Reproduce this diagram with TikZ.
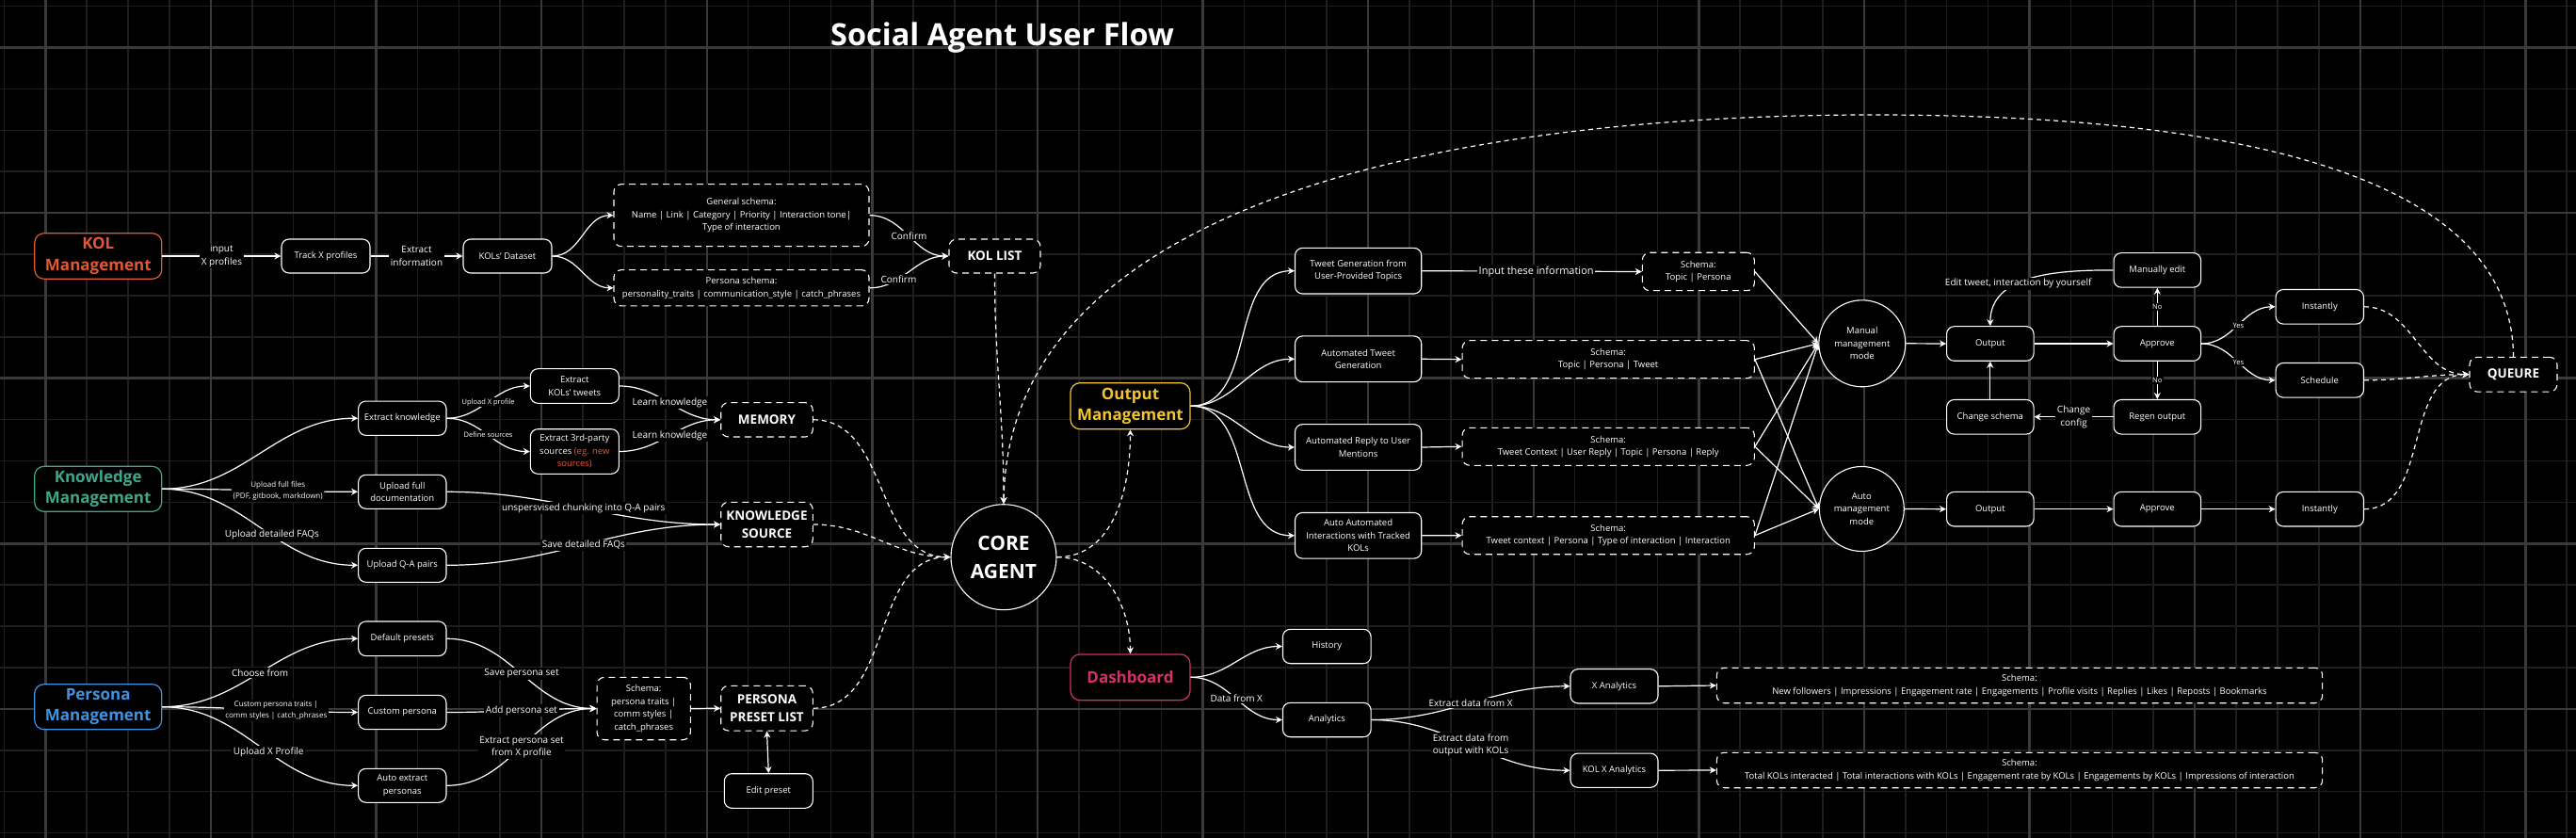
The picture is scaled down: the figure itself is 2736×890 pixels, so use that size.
\documentclass[tikz,border=0pt]{standalone}
\usepackage{fontspec}
\setmainfont{Open Sans}
\usetikzlibrary{arrows.meta}
\definecolor{kolc}{RGB}{229,87,52}
\definecolor{knc}{RGB}{62,168,138}
\definecolor{perc}{RGB}{66,146,226}
\definecolor{outc}{RGB}{243,196,48}
\definecolor{dashc}{RGB}{214,48,104}
\definecolor{gmin}{RGB}{30,30,30}
\definecolor{gmaj}{RGB}{58,58,58}
\newcommand\fsbody{\fontsize{9.5}{13.5}\selectfont}
\newcommand\fslbl{\fontsize{10}{13.5}\selectfont}
\newcommand\fsbig{\fontsize{11}{14}\selectfont}
\newcommand\fssmall{\fontsize{8}{11.5}\selectfont}
\newcommand\fstiny{\fontsize{7.5}{10}\selectfont}
\newcommand\fshead{\fontsize{17}{22.5}\selectfont\bfseries}
\newcommand\fslist{\fontsize{13.5}{18.5}\selectfont\bfseries}
\newcommand\fscore{\fontsize{21}{30}\selectfont\bfseries}
\newcommand\fstitle{\fontsize{32.5}{38}\selectfont\bfseries}
\tikzset{
  sz/.style 2 args={minimum width=#1pt, minimum height=#2pt},
  box/.style={draw=white, line width=1.1pt, rounded corners=8pt, fill=black, text=white, align=center, font=\fsbody, inner sep=1pt},
  dbox/.style={box, dash pattern=on 7pt off 5pt},
  listb/.style={font=\fslist},
  head/.style={box, draw=#1, text=#1, font=\fshead, rounded corners=10pt, line width=1.2pt},
  circ/.style={circle, draw=white, line width=1.1pt, fill=black, text=white, align=center, font=\fsbody, inner sep=0pt},
  conn/.style={draw=white, line width=1.2pt},
  dconn/.style={draw=white, line width=1.2pt, dash pattern=on 5pt off 4pt},
  lbl/.style={fill=black, text=white, align=center, font=\fslbl, inner sep=1.5pt},
  slbl/.style={lbl, font=\fssmall},
  tlbl/.style={lbl, font=\fstiny},
  blbl/.style={lbl, font=\fsbig},
  gminor/.style={draw=gmin, line width=1.5pt},
  gmajor/.style={draw=gmaj, line width=2.4pt}
}
\begin{document}
\begin{tikzpicture}[x=1pt,y=-1pt,>={Stealth[length=7pt,width=7pt]}]
\useasboundingbox (0,0) rectangle (2736,890);
\fill[black] (0,0) rectangle (2736,890);
% grid
\foreach \k in {0,...,62}{\pgfmathsetmacro\xx{4.4+43.9*\k}\draw[gminor] (\xx,0) -- (\xx,890);}
\foreach \k in {0,...,20}{\pgfmathsetmacro\yy{6.6+43.9*\k}\draw[gminor] (0,\yy) -- (2736,\yy);}
\foreach \k in {1,5,...,61}{\pgfmathsetmacro\xx{4.4+43.9*\k}\draw[gmajor] (\xx,0) -- (\xx,890);}
\foreach \k in {1,5,...,17}{\pgfmathsetmacro\yy{6.6+43.9*\k}\draw[gmajor] (0,\yy) -- (2736,\yy);}

% title
\node[text=white, font=\fstitle] (title) at (1064.5,40) {Social Agent User Flow};

% KOL section
\node[head=kolc, sz={135}{48.5}] (kolm) at (104.3,272) {KOL\\Management};
\node[box, sz={94}{36}] (track) at (346,272) {Track X profiles};
\node[box, sz={94}{36}] (dataset) at (539,272) {KOLs' Dataset};
\node[dbox, sz={271}{66}] (genschema) at (787.5,228.7) {General schema:\\Name | Link | Category | Priority | Interaction tone|\\Type of interaction};
\node[dbox, sz={271}{38.3}] (perschema) at (787.5,305.8) {Persona schema:\\personality\_traits | communication\_style | catch\_phrases};
\node[dbox, listb, sz={97}{36}] (kollist) at (1056.5,272) {KOL LIST};

% Knowledge section
\node[head=knc, sz={135}{48}] (knm) at (104.2,519.3) {Knowledge\\Management};
\node[box, sz={93.3}{36.3}] (extk) at (427.3,444.2) {Extract knowledge};
\node[box, sz={93.3}{36}] (upfull) at (427.3,522.3) {Upload full\\documentation};
\node[box, sz={93.3}{36}] (upqa) at (427.3,600.3) {Upload Q-A pairs};
\node[box, sz={94}{36.6}] (extkol) at (610.3,410) {Extract\\KOLs' tweets};
\node[box, sz={94}{47.6}] (ext3) at (610.3,479.5) {Extract 3rd-party\\sources {\color{kolc}(eg. new}\\{\color{kolc}sources)}};
\node[dbox, listb, sz={97.6}{36.3}] (memory) at (814.5,445.8) {MEMORY};
\node[dbox, listb, sz={97.6}{47.4}] (ksrc) at (814.5,557) {KNOWLEDGE\\SOURCE};

% Persona section
\node[head=perc, sz={135}{48}] (pm) at (104.2,750.7) {Persona\\Management};
\node[box, sz={93.3}{36.6}] (defp) at (427.3,678.3) {Default presets};
\node[box, sz={93.3}{36.3}] (custp) at (427.3,756.5) {Custom persona};
\node[box, sz={93.3}{36}] (autop) at (427.3,834.3) {Auto extract\\personas};
\node[dbox, sz={99.3}{66.4}] (pschema) at (683.7,752.5) {Schema:\\persona traits |\\comm styles |\\catch\_phrases};
\node[dbox, listb, sz={97.6}{47.7}] (ppl) at (814.5,752.2) {PERSONA\\PRESET LIST};
\node[box, sz={94}{36.6}] (editp) at (816.3,840) {Edit preset};

% Core
\node[circ, font=\fscore, minimum size=112pt] (core) at (1066,591.7) {CORE\\AGENT};

% Output section
\node[head=outc, sz={127}{49}] (om) at (1200.5,431.2) {Output\\Management};
\node[box, sz={134.2}{48.7}] (tg) at (1442.6,287.7) {Tweet Generation from\\User-Provided Topics};
\node[box, sz={134.2}{48.7}] (atg) at (1442.6,381.3) {Automated Tweet\\Generation};
\node[box, sz={134.2}{48.7}] (arm) at (1442.6,475) {Automated Reply to User\\Mentions};
\node[box, sz={134.2}{48.7}] (aai) at (1442.6,568.8) {Auto Automated\\Interactions with Tracked\\KOLs};
\node[dbox, sz={119}{40.4}] (s1) at (1803.8,288.5) {Schema:\\Topic | Persona};
\node[dbox, sz={310.3}{40}] (s2) at (1708.2,381.7) {Schema:\\Topic | Persona | Tweet};
\node[dbox, sz={310.3}{40}] (s3) at (1708.2,474.3) {Schema:\\Tweet Context | User Reply | Topic | Persona | Reply};
\node[dbox, sz={310.3}{40}] (s4) at (1708.2,568.7) {Schema:\\Tweet context | Persona | Type of interaction | Interaction};
\node[circ, minimum size=92pt] (manual) at (1977.8,364.8) {Manual\\management\\mode};
\node[circ, minimum size=90pt] (automode) at (1977.3,540.5) {Auto\\management\\mode};
\node[box, sz={92.5}{36.6}] (out1) at (2113.8,365) {Output};
\node[box, sz={92.5}{36.6}] (appr1) at (2291.3,365) {Approve};
\node[box, sz={92.5}{36.6}] (medit) at (2291.3,286.9) {Manually edit};
\node[box, sz={92.5}{36.6}] (regen) at (2291.3,442.8) {Regen output};
\node[box, sz={92.5}{36.6}] (chsch) at (2113.8,442.8) {Change schema};
\node[box, sz={93.3}{36.6}] (inst1) at (2463.8,325.8) {Instantly};
\node[box, sz={93.3}{36.6}] (sched) at (2463.8,403.8) {Schedule};
\node[dbox, listb, sz={93}{36.7}] (queure) at (2669.5,397.7) {QUEURE};
\node[box, sz={92.5}{36.6}] (out2) at (2113.8,540.7) {Output};
\node[box, sz={92.5}{36.6}] (appr2) at (2291.3,540.7) {Approve};
\node[box, sz={93.3}{36.6}] (inst2) at (2463.8,540.7) {Instantly};
\coordinate (arcpeak) at (1990,122);

% Dashboard
\node[head=dashc, sz={127}{48.7}] (dash) at (1200.5,719.3) {Dashboard};
\node[box, sz={93.7}{36.4}] (hist) at (1409.3,686.5) {History};
\node[box, sz={93.7}{36.4}] (anal) at (1409.3,764.5) {Analytics};
\node[box, sz={93}{36.3}] (xan) at (1714.5,728.8) {X Analytics};
\node[box, sz={93}{36.3}] (kxan) at (1714.5,818.2) {KOL X Analytics};
\node[dbox, sz={643.3}{37.4}] (ds1) at (2145,728) {Schema:\\New followers | Impressions | Engagement rate | Engagements | Profile visits | Replies | Likes | Reposts | Bookmarks};
\node[dbox, sz={643.3}{37.4}] (ds2) at (2145,818) {Schema:\\Total KOLs interacted | Total interactions with KOLs | Engagement rate by KOLs | Engagements by KOLs | Impressions of interaction};

% ---- connectors: KOL
\draw[conn,->] (kolm.east) -- node[lbl]{input\\X profiles} (track.west);
\draw[conn,->] (track.east) -- node[lbl]{Extract\\information} (dataset.west);
\draw[conn,->] (dataset.east) to[out=0,in=180] (genschema.west);
\draw[conn,->] (dataset.east) to[out=0,in=180] (perschema.west);
\draw[conn,->] (genschema.east) to[out=0,in=180] node[lbl]{Confirm} (kollist.west);
\draw[conn,->] (perschema.east) to[out=0,in=180] node[lbl,pos=0.35]{Confirm} (kollist.west);

% Knowledge
\draw[conn,->] (knm.east) to[out=0,in=180] (extk.west);
\draw[conn,->] (knm.east) to[out=0,in=180] node[slbl,pos=0.6]{Upload full files\\(PDF, gitbook, markdown)} (upfull.west);
\draw[conn,->] (knm.east) to[out=0,in=180] node[lbl,pos=0.57]{Upload detailed FAQs} (upqa.west);
\draw[conn,->] (extk.east) to[out=0,in=180] node[tlbl]{Upload X profile} (extkol.west);
\draw[conn,->] (extk.east) to[out=0,in=180] node[tlbl]{Define sources} (ext3.west);
\draw[conn,->] (extkol.east) to[out=0,in=180] node[lbl]{Learn knowledge} (memory.west);
\draw[conn,->] (ext3.east) to[out=0,in=180] node[lbl]{Learn knowledge} (memory.west);
\draw[conn,->] (upfull.east) to[out=0,in=180] node[lbl]{unspersvised chunking into Q-A pairs} (ksrc.west);
\draw[conn,->] (upqa.east) to[out=0,in=180] node[lbl]{Save detailed FAQs} (ksrc.west);

% Persona
\draw[conn,->] (pm.east) to[out=0,in=180] node[lbl]{Choose from} (defp.west);
\draw[conn,->] (pm.east) to[out=0,in=180] node[slbl,pos=0.59]{Custom persona traits |\\comm styles | catch\_phrases} (custp.west);
\draw[conn,->] (pm.east) to[out=0,in=180] node[lbl,pos=0.55]{Upload X Profile} (autop.west);
\draw[conn,->] (defp.east) to[out=0,in=180] node[lbl]{Save persona set} (pschema.west);
\draw[conn,->] (custp.east) to[out=0,in=180] node[lbl]{Add persona set} (pschema.west);
\draw[conn,->] (autop.east) to[out=0,in=180] node[lbl]{Extract persona set\\from X profile} (pschema.west);
\draw[conn,->] (pschema.east) -- (ppl.west);
\draw[conn,<->] (ppl.south) -- (editp.north);

% Core
\draw[dconn,->] (memory.east) to[out=0,in=180] (core.west);
\draw[dconn,->] (ksrc.east) to[out=0,in=180] (core.west);
\draw[dconn,->] (ppl.east) to[out=0,in=180] (core.west);
\draw[dconn,->] (kollist.south) to[out=-90,in=90] (core.north);
\draw[dconn,->] (queure.north) .. controls (2668,180) and (2360,122) .. (arcpeak) .. controls (1500,122) and (1070,230) .. (core.north);
\draw[dconn,->] (core.east) to[out=0,in=-90] (om.south);
\draw[dconn,->] (core.east) to[out=0,in=90] (dash.north);

% Output
\foreach \t in {tg,atg,arm,aai}{\draw[conn,->] (om.east) to[out=0,in=180] (\t.west);}
\draw[conn,->] (tg.east) -- node[blbl,pos=0.52]{Input these information} (s1.west);
\draw[conn,->] (atg.east) -- (s2.west);
\draw[conn,->] (arm.east) -- (s3.west);
\draw[conn,->] (aai.east) -- (s4.west);
\draw[conn,->] (s1.east) -- (manual.west);
\foreach \s in {s2,s3,s4}{\draw[conn,->] (\s.east) -- (manual.west); \draw[conn,->] (\s.east) -- (automode.west);}
\draw[conn,->] (manual.east) -- (out1.west);
\draw[conn,->] (out1.east) -- (appr1.west);
\draw[conn,->] (appr1.north) -- node[tlbl]{No} (medit.south);
\draw[conn,->] (appr1.south) -- node[tlbl]{No} (regen.north);
\draw[conn,->] (regen.west) -- node[lbl]{Change\\config} (chsch.east);
\draw[conn,->] (chsch.north) -- (out1.south);
\draw[conn,->] (medit.west) to[out=180,in=90] node[lbl,pos=0.6]{Edit tweet, interaction by yourself} (out1.north);
\draw[conn,->] (appr1.east) to[out=0,in=180] node[tlbl]{Yes} (inst1.west);
\draw[conn,->] (appr1.east) to[out=0,in=180] node[tlbl]{Yes} (sched.west);
\draw[dconn,->] (inst1.east) to[out=0,in=180] (queure.west);
\draw[dconn,->] (sched.east) to[out=0,in=180] (queure.west);
\draw[dconn,->] (inst2.east) to[out=0,in=180] (queure.west);
\draw[conn,->] (automode.east) -- (out2.west);
\draw[conn,->] (out2.east) -- (appr2.west);
\draw[conn,->] (appr2.east) -- (inst2.west);

% Dashboard
\draw[conn,->] (dash.east) to[out=0,in=180] (hist.west);
\draw[conn,->] (dash.east) to[out=0,in=180] node[lbl]{Data from X} (anal.west);
\draw[conn,->] (anal.east) to[out=0,in=180] node[lbl]{Extract data from X} (xan.west);
\draw[conn,->] (anal.east) to[out=0,in=180] node[lbl]{Extract data from\\output with KOLs} (kxan.west);
\draw[conn,->] (xan.east) -- (ds1.west);
\draw[conn,->] (kxan.east) -- (ds2.west);
\end{tikzpicture}
\end{document}
